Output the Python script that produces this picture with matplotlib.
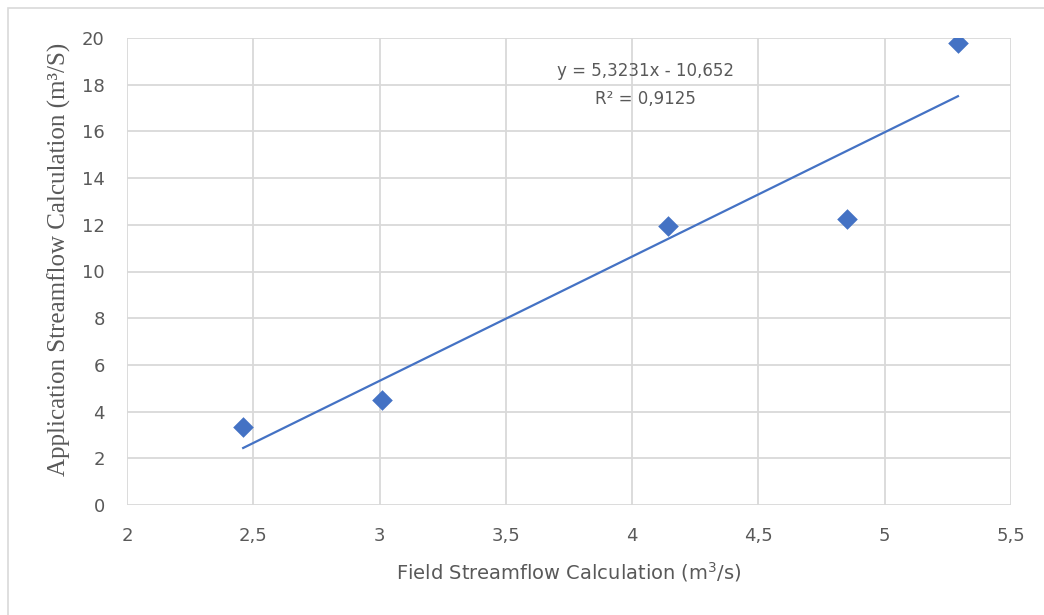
import matplotlib.pyplot as plt
import matplotlib.ticker as mticker
from matplotlib.patches import Rectangle
import numpy as np

# data
field_q = [2.46, 3.01, 4.14, 4.85, 5.29]
app_q = [3.35, 4.48, 11.95, 12.25, 19.8]
slope = 5.3231
intercept = -10.652
r2 = 0.9125

x_ticks = [2, 2.5, 3, 3.5, 4, 4.5, 5, 5.5]
y_ticks = [0, 2, 4, 6, 8, 10, 12, 14, 16, 18, 20]

blue = '#4472C4'
grey_txt = '#595959'
grid_c = '#d9d9d9'


def comma(v, pos=None):
    return ('%g' % v).replace('.', ',')


fig = plt.figure(figsize=(10.44, 6.15), dpi=100)
ax = fig.add_axes([127 / 1044, 1 - 505 / 615, (1011 - 127) / 1044, (505 - 38) / 615])

# outer chart border (only top/left visible in the crop)
fig.patches.append(Rectangle((8 / 1044, -0.1), 1.2, 1 - 8 / 615 + 0.1,
                             transform=fig.transFigure, fill=False,
                             edgecolor=grid_c, linewidth=1.2))

ax.scatter(field_q, app_q, marker='D', s=10.5 ** 2, color=blue, zorder=3,
           linewidths=0)

xs = np.array([min(field_q), max(field_q)])
ax.plot(xs, slope * xs + intercept, color=blue, linewidth=1.6, zorder=2)

ax.set_xlim(2, 5.5)
ax.set_ylim(0, 20)
ax.set_xticks(x_ticks)
ax.set_yticks(y_ticks)
ax.xaxis.set_major_formatter(mticker.FuncFormatter(comma))
ax.yaxis.set_major_formatter(mticker.FuncFormatter(comma))
ax.grid(True, color=grid_c, linewidth=1.3)
ax.set_axisbelow(True)
for sp in ax.spines.values():
    sp.set_visible(False)
ax.tick_params(length=0, labelsize=13, colors=grey_txt)
ax.tick_params(axis='x', pad=16)
ax.tick_params(axis='y', pad=16)

ax.set_xlabel('Field Streamflow Calculation (m$^3$/s)', fontsize=14,
              color=grey_txt, labelpad=11)
ax.set_ylabel('Application Streamflow Calculation (m³/S)', fontsize=18,
              color=grey_txt, family='Liberation Serif')
ax.yaxis.set_label_coords(-0.063, 0.527)

ax.text(0.587, 0.90, 'y = 5,3231x - 10,652\nR² = 0,9125',
        transform=ax.transAxes, ha='center', va='center',
        fontsize=12, color=grey_txt, linespacing=1.7)

fig.savefig('out.png', dpi=100)
